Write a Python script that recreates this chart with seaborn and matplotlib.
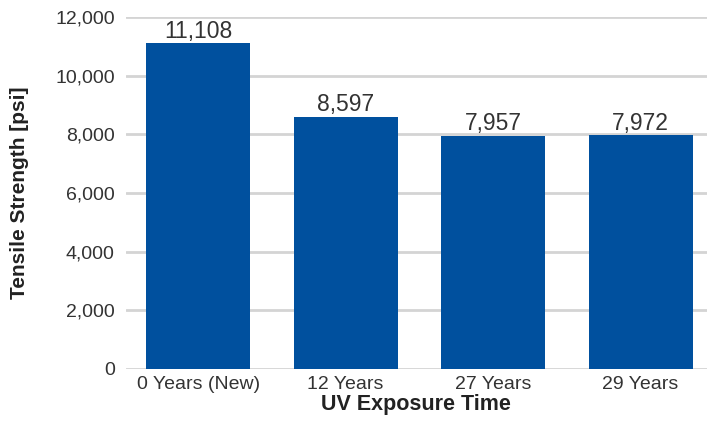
import matplotlib
matplotlib.use("Agg")
import matplotlib.pyplot as plt
import seaborn as sns
import pandas as pd
from matplotlib.ticker import FuncFormatter

categories = ["0 Years (New)", "12 Years", "27 Years", "29 Years"]
values = [11108, 8597, 7957, 7972]
yticks = [0, 2000, 4000, 6000, 8000, 10000, 12000]

sns.set_theme(style="white")
plt.rcParams['font.family'] = ['Liberation Sans', 'DejaVu Sans']

df = pd.DataFrame({"cat": categories, "val": values})

fig = plt.figure(figsize=(7.07, 4.22), dpi=100)
ax = fig.add_axes([0.178, 0.1256, 0.822, 0.8341])

sns.barplot(data=df, x="cat", y="val", color="#00509E", width=0.705,
            saturation=1, linewidth=0, ax=ax, zorder=3)

ax.set_ylim(0, 12000)
ax.set_xlim(-0.49, 3.45)
ax.set_yticks(yticks)
ax.yaxis.set_major_formatter(FuncFormatter(lambda v, p: f"{int(v):,}"))
ax.grid(axis="y", color="#d4d4d4", linewidth=2, zorder=0)
ax.set_axisbelow(True)
for s in ax.spines.values():
    s.set_visible(False)
ax.tick_params(axis="both", length=0, labelsize=14, colors="#333333", pad=8)
ax.tick_params(axis="x", pad=5)

for i, v in enumerate(values):
    ax.text(i, v + 20, f"{v:,}", ha="center", va="bottom", fontsize=16.5, color="#333333", zorder=4)

ax.set_xlabel("UV Exposure Time", fontsize=15.5, fontweight="bold", color="#222222", labelpad=1)
ax.set_ylabel("Tensile Strength [psi]", fontsize=15, fontweight="bold", color="#222222", labelpad=19)

fig.savefig("out.png", dpi=100)
